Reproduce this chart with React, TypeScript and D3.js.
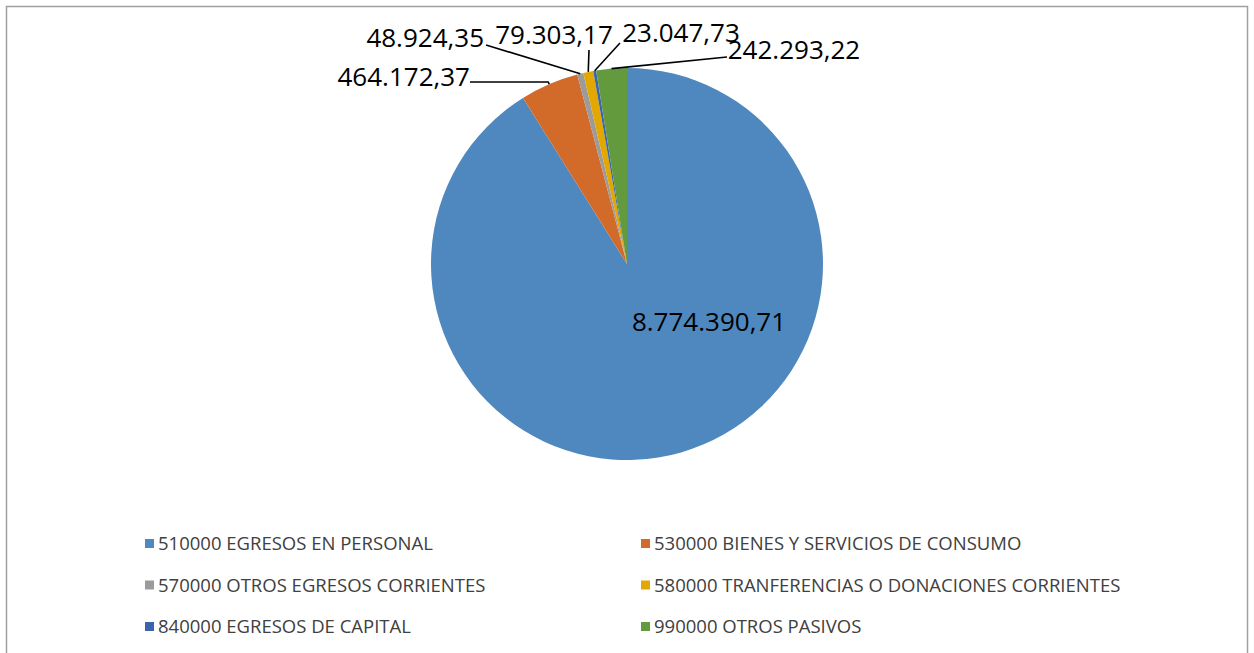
import * as d3 from 'd3';

// categories & values
const categories = [
  '510000 EGRESOS EN PERSONAL',
  '530000 BIENES Y SERVICIOS DE CONSUMO',
  '570000 OTROS EGRESOS CORRIENTES',
  '580000 TRANFERENCIAS O DONACIONES CORRIENTES',
  '840000 EGRESOS DE CAPITAL',
  '990000 OTROS PASIVOS',
];
const values = [8774390.71, 464172.37, 48924.35, 79303.17, 23047.73, 242293.22];
const valueLabels = ['8.774.390,71', '464.172,37', '48.924,35', '79.303,17', '23.047,73', '242.293,22'];
const colors = ['#4F88BE', '#D26B2A', '#9B9B9B', '#E2A700', '#3C64AE', '#649A3E'];

// label placement (layout only): text pos, anchor, leader start
const labelLayout = [
  { x: 709, y: 331, anchor: 'middle', line: null, elbow: false },
  { x: 470, y: 86, anchor: 'end', line: [470, 82], elbow: true },
  { x: 484, y: 47, anchor: 'end', line: [486, 45], elbow: false },
  { x: 554, y: 44, anchor: 'middle', line: [589, 50], elbow: false },
  { x: 681, y: 42, anchor: 'middle', line: [620, 43], elbow: false },
  { x: 794, y: 59, anchor: 'middle', line: [727, 57], elbow: false },
];

const FONT = "'Open Sans', sans-serif";

export default function App() {
  const width = 1254;
  const height = 653;
  const cx = 627;
  const cy = 264;
  const radius = 196;

  const pie = d3.pie<number>().sort(null).value(d => d);
  const arcs = pie(values);
  const arc = d3.arc<d3.PieArcDatum<number>>().innerRadius(0).outerRadius(radius);
  const edgeArc = d3.arc<d3.PieArcDatum<number>>().innerRadius(radius).outerRadius(radius);

  // legend grid
  const legendCols = [145, 641];
  const legendRows = d3.scalePoint<number>().domain([0, 1, 2]).range([544, 627]);

  return (
    <svg
      width={width}
      height={height}
      style={{ position: 'absolute', left: 0, top: 0, display: 'block', background: '#fff' }}
    >
      {/* chart area border */}
      <rect x={6.5} y={6.5} width={1241} height={700} fill="#fff" stroke="#A0A0A0" strokeWidth={1.5} />

      <g transform={`translate(${cx},${cy})`}>
        {arcs.map((a, i) => (
          <path key={i} d={arc(a) || ''} fill={colors[i]} />
        ))}
      </g>

      {/* leader lines */}
      {arcs.map((a, i) => {
        const l = labelLayout[i];
        if (!l.line) return null;
        const [ex, ey] = edgeArc.centroid(a);
        const px = cx + ex;
        const py = cy + ey;
        const pts = l.elbow
          ? [[l.line[0], l.line[1]], [px - 1, l.line[1]], [px, py]]
          : [[l.line[0], l.line[1]], [px, py]];
        return (
          <polyline
            key={'l' + i}
            points={pts.map(p => p.join(',')).join(' ')}
            fill="none"
            stroke="#000"
            strokeWidth={1.6}
          />
        );
      })}

      {/* data labels */}
      {valueLabels.map((t, i) => {
        const l = labelLayout[i];
        return (
          <text
            key={'t' + i}
            x={l.x}
            y={l.y}
            textAnchor={l.anchor}
            fontFamily={FONT}
            fontSize={26}
            fill="#000"
          >
            {t}
          </text>
        );
      })}

      {/* legend */}
      {categories.map((c, i) => {
        const x = legendCols[i % 2];
        const y = legendRows(Math.floor(i / 2)) as number;
        return (
          <g key={'lg' + i} transform={`translate(${x},${y})`}>
            <rect x={0} y={-5} width={9} height={9} fill={colors[i]} />
            <text x={13} y={6} fontFamily={FONT} fontSize={18.5} fill="#404040">
              {c}
            </text>
          </g>
        );
      })}
    </svg>
  );
}
